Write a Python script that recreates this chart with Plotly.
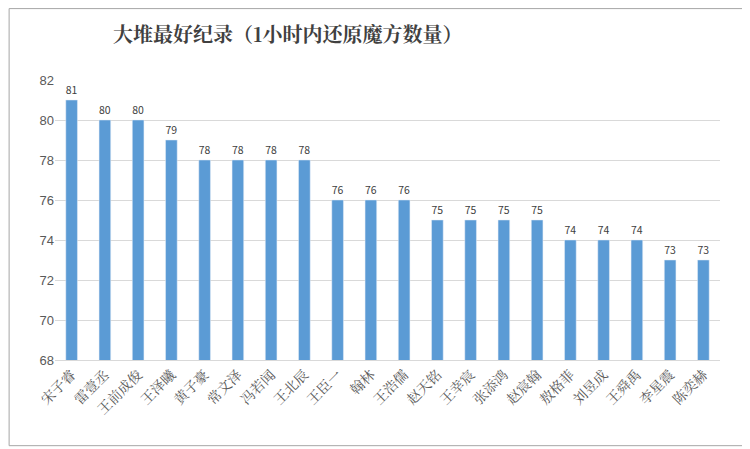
import plotly.graph_objects as go

names = ["宋子睿", "雷壹丞", "王前成俊", "王泽曦", "黄子豪", "常文泽", "冯若闻", "王北辰", "王臣一", "翰林",
         "王浩儒", "赵天铭", "王幸宸", "张添鸿", "赵宸翰", "敖格菲", "刘昱成", "王舜禹", "李星震", "陈奕赫"]
scores = [81, 80, 80, 79, 78, 78, 78, 78, 76, 76, 76, 75, 75, 75, 75, 74, 74, 74, 73, 73]

fig = go.Figure(go.Bar(
    x=names, y=scores, marker_color="#5B9BD5", width=0.35,
    text=scores, textposition="outside", cliponaxis=False,
    textfont=dict(size=13, color="#404040"),
))

fig.update_layout(
    width=740, height=439,
    paper_bgcolor="white", plot_bgcolor="white",
    margin=dict(l=47, r=28, t=72, b=87),
    title=dict(text="<b>大堆最好纪录（1小时内还原魔方数量）</b>", x=0.142, xanchor="left", y=0.955,
               font=dict(family="Noto Serif CJK SC, Noto Sans CJK SC", size=20, color="#404040")),
    font=dict(family="Noto Sans CJK SC", color="#595959"),
    showlegend=False,
    shapes=[dict(type="rect", xref="paper", yref="paper", x0=-0.069, x1=1.04, y0=-0.306, y1=1.255,
                 line=dict(color="#a6a6a6", width=1))],
)
fig.update_yaxes(range=[68, 82], dtick=2, gridcolor="#d9d9d9", zeroline=False,
                 tickfont=dict(size=13, family="Liberation Sans"), ticklen=0)
fig.update_xaxes(tickangle=-45, tickfont=dict(size=14, family="Noto Serif CJK SC, Noto Sans CJK SC"),
                 showline=True, linecolor="#d9d9d9")

fig.write_html("out.html")
